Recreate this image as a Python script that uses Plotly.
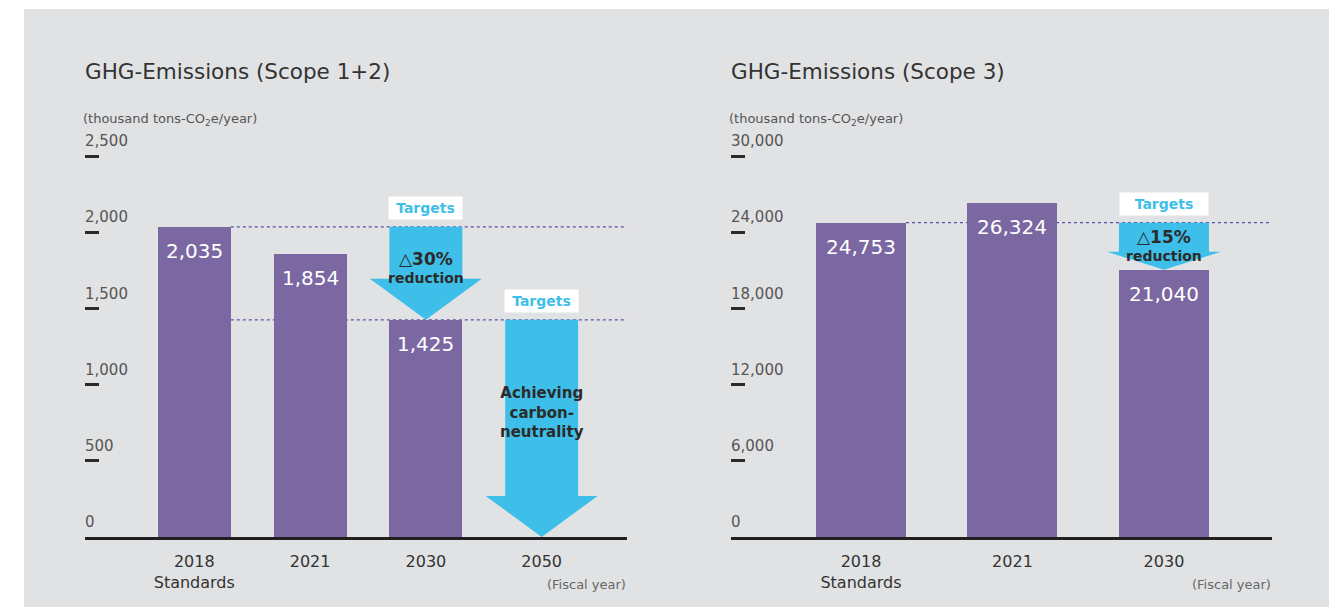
import plotly.graph_objects as go

# ---------------- data ----------------
left_categories = ["2018<br>Standards", "2021", "2030", "2050"]
left_values = [2035, 1854, 1425, None]
left_ticks = [0, 500, 1000, 1500, 2000, 2500]

right_categories = ["2018<br>Standards", "2021", "2030"]
right_values = [24753, 26324, 21040]
right_ticks = [0, 6000, 12000, 18000, 24000, 30000]

left_title = "GHG-Emissions (Scope 1+2)"
right_title = "GHG-Emissions (Scope 3)"
unit_label = "(thousand tons-CO<sub>2</sub>e/year)"
fiscal_label = "(Fiscal year)"

# target arrows: (category index, from value, to value)
left_arrows = [(2, 2035, 1425), (3, 1425, 0)]
right_arrows = [(2, 24753, 21040)]
left_ref_lines = [2035, 1425]
right_ref_lines = [24753]

# ---------------- style ----------------
OFF = 8                      # page body margin
W, H = 1342 - OFF, 607 - OFF
FONT = "DejaVu Sans"
PURPLE = "#7b67a2"
BLUE = "#3ebfe9"
BG = "#e1e2e4"
DARK = "#2b2b2b"
GREY = "#555555"
DOT = "#5b4fa8"

def px(x):
    return (x - OFF) / W

def py(y):
    return 1 - (y - OFF) / H

Y_TOP, Y_BOT = 156, 537      # pixel rows of top tick and of zero
DOMAIN_TOP = 128             # extra room above the top tick for its label
L_X0, L_X1 = 85, 627
R_X0, R_X1 = 731, 1272
L_RANGE = [-0.944, 3.737]
R_RANGE = [-0.858, 2.713]
L_BW, R_BW = 0.63, 0.594
L_SCALE = (Y_BOT - Y_TOP) / left_ticks[-1]
R_SCALE = (Y_BOT - Y_TOP) / right_ticks[-1]
L_YMAX = (Y_BOT - DOMAIN_TOP) / L_SCALE
R_YMAX = (Y_BOT - DOMAIN_TOP) / R_SCALE

fig = go.Figure()

fig.add_trace(go.Bar(x=list(range(len(left_values))), y=left_values, width=L_BW,
                     marker=dict(color=PURPLE, line=dict(width=0)),
                     xaxis="x", yaxis="y", hoverinfo="skip", showlegend=False))
fig.add_trace(go.Bar(x=list(range(len(right_values))), y=right_values, width=R_BW,
                     marker=dict(color=PURPLE, line=dict(width=0)),
                     xaxis="x2", yaxis="y2", hoverinfo="skip", showlegend=False))

shapes = []
annotations = []

# grey panel background
shapes.append(dict(type="rect", xref="paper", yref="paper", x0=px(24), x1=px(1329),
                   y0=-0.01, y1=py(9), fillcolor=BG, line=dict(width=0), layer="below"))

def ref_lines(vals, xref, yref, bw, xmax):
    for v in vals:
        shapes.append(dict(type="line", xref=xref, yref=yref, x0=bw / 2, x1=xmax,
                           y0=v, y1=v, line=dict(color=DOT, width=1.2, dash="dot"),
                           layer="below"))

ref_lines(left_ref_lines, "x", "y", L_BW, L_RANGE[1])
ref_lines(right_ref_lines, "x2", "y2", R_BW, R_RANGE[1])

def arrow(idx, v0, v1, xref, yref, shaft_half, head_half, head_px, scale):
    hh = head_px / scale
    yb = v1 + hh
    path = (f"M {idx - shaft_half},{v0} L {idx + shaft_half},{v0} "
            f"L {idx + shaft_half},{yb} L {idx + head_half},{yb} L {idx},{v1} "
            f"L {idx - head_half},{yb} L {idx - shaft_half},{yb} Z")
    shapes.append(dict(type="path", xref=xref, yref=yref, path=path,
                       fillcolor=BLUE, line=dict(width=0), layer="above"))

arrow(*left_arrows[0], "x", "y", L_BW / 2, 0.483, 41, L_SCALE)
arrow(*left_arrows[1], "x", "y", L_BW / 2, 0.483, 41, L_SCALE)
arrow(*right_arrows[0], "x2", "y2", R_BW / 2, 0.376, 18, R_SCALE)

# bar value labels
def value_labels(vals, xref, yref):
    for i, v in enumerate(vals):
        if v is None:
            continue
        annotations.append(dict(x=i, y=v, xref=xref, yref=yref, text=f"{v:,}",
                                showarrow=False, yshift=-24,
                                font=dict(family=FONT, size=20, color="white")))

value_labels(left_values, "x", "y")
value_labels(right_values, "x2", "y2")

# "Targets" tags
def target_tag(idx, v, xref, yref, w):
    annotations.append(dict(x=idx, y=v, xref=xref, yref=yref, text="<b>Targets</b>",
                            showarrow=False, yshift=19, bgcolor="white", width=w,
                            height=18, borderpad=2,
                            font=dict(family=FONT, size=14, color=BLUE)))

target_tag(left_arrows[0][0], left_arrows[0][1], "x", "y", 69)
target_tag(left_arrows[1][0], left_arrows[1][1], "x", "y", 69)
target_tag(right_arrows[0][0], right_arrows[0][1], "x2", "y2", 84)

# arrow texts
def arrow_text(idx, v, xref, yref, text, size, shift):
    annotations.append(dict(x=idx, y=v, xref=xref, yref=yref, text=text,
                            showarrow=False, yshift=shift, yanchor="middle",
                            font=dict(family=FONT, size=size, color=DARK)))

pct_text = ("<b><span style='font-size:17px'>△{}</span><br>"
            "<span style='font-size:14px'>reduction</span></b>")
arrow_text(2, left_arrows[0][1], "x", "y", pct_text.format("30%"), 14, -41)
arrow_text(3, left_arrows[1][1], "x", "y",
           "<b>Achieving<br>carbon-<br>neutrality</b>", 15, -93)
arrow_text(2, right_arrows[0][1], "x2", "y2", pct_text.format("15%"), 14, -23)

# titles and notes
for x0, x1, title in [(L_X0, L_X1, left_title), (R_X0, R_X1, right_title)]:
    annotations.append(dict(x=px(x0 - 2), y=py(71), xref="paper", yref="paper", text=title,
                            showarrow=False, xanchor="left", yanchor="middle",
                            font=dict(family=FONT, size=21.5, color="#333333")))
    annotations.append(dict(x=px(x0 - 4), y=py(119), xref="paper", yref="paper",
                            text=unit_label, showarrow=False, xanchor="left",
                            yanchor="middle", font=dict(family=FONT, size=13, color=GREY)))
    annotations.append(dict(x=px(x1 + 1), y=py(584), xref="paper", yref="paper",
                            text=fiscal_label, showarrow=False, xanchor="right",
                            yanchor="middle", font=dict(family=FONT, size=13, color="#666666")))

yaxis_common = dict(showgrid=False, zeroline=False, showline=False, ticks="inside",
                    ticklen=14, tickwidth=3, tickcolor=DARK,
                    ticklabelposition="inside", ticklabelshift=-15,
                    ticklabelstandoff=-14,
                    tickfont=dict(family=FONT, size=15, color=GREY),
                    domain=[py(Y_BOT), py(DOMAIN_TOP)], fixedrange=True)
xaxis_common = dict(showgrid=False, zeroline=False, showline=True, linecolor="#231f20",
                    linewidth=3, ticks="", ticklabelstandoff=8,
                    tickfont=dict(family=FONT, size=16, color="#333333"),
                    fixedrange=True)

fig.update_layout(
    width=W, height=H, margin=dict(l=0, r=0, t=0, b=0),
    paper_bgcolor="white", plot_bgcolor="rgba(0,0,0,0)",
    bargap=0, showlegend=False,
    xaxis=dict(xaxis_common, domain=[px(L_X0), px(L_X1)], range=L_RANGE,
               tickvals=list(range(len(left_categories))), ticktext=left_categories,
               anchor="y"),
    yaxis=dict(yaxis_common, range=[0, L_YMAX], tickvals=left_ticks,
               ticktext=[f"{t:,}" for t in left_ticks], anchor="x"),
    xaxis2=dict(xaxis_common, domain=[px(R_X0), px(R_X1)], range=R_RANGE,
                tickvals=list(range(len(right_categories))), ticktext=right_categories,
                anchor="y2"),
    yaxis2=dict(yaxis_common, range=[0, R_YMAX], tickvals=right_ticks,
                ticktext=[f"{t:,}" for t in right_ticks], anchor="x2"),
    shapes=shapes, annotations=annotations,
)

fig.write_html("out.html")
